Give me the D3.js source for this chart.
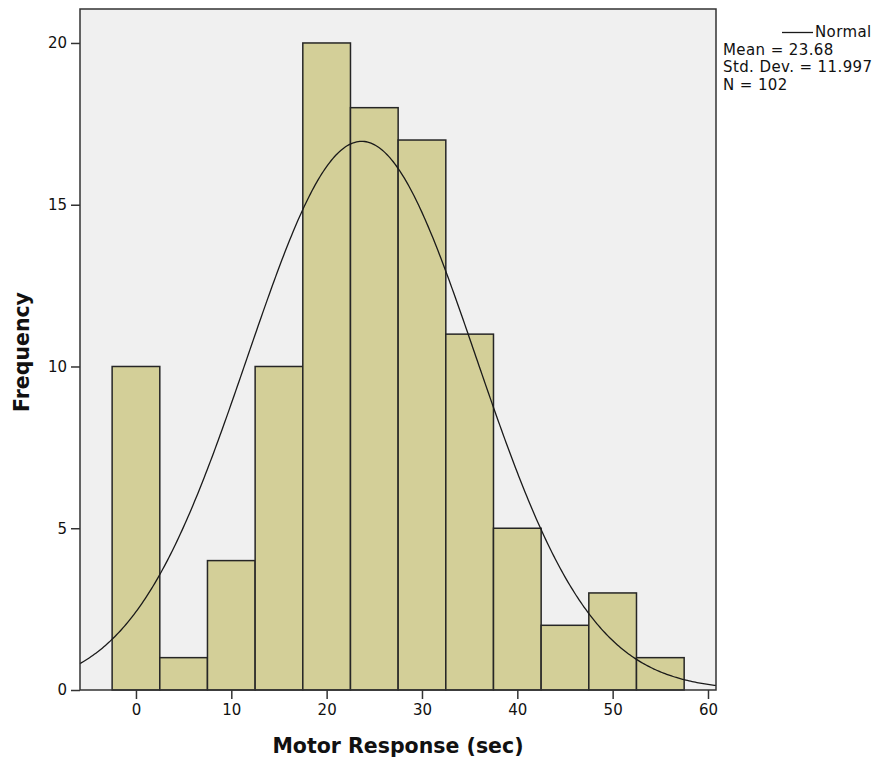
<!DOCTYPE html>
<html>
<head>
<meta charset="utf-8">
<script src="https://cdn.jsdelivr.net/npm/d3@7"></script>
<style>
  html, body { margin: 0; padding: 0; background: #fff; }
  svg { display: block; }
  text { font-family: "DejaVu Sans", "Lucida Grande", sans-serif; fill: #111; }
</style>
</head>
<body>
<script>
// Histogram of motor response times, 5-second bins centred on multiples of 5
const binCenters = [0, 5, 10, 15, 20, 25, 30, 35, 40, 45, 50, 55];
const frequencies = [10, 1, 4, 10, 20, 18, 17, 11, 5, 2, 3, 1];
const binWidth = 5;

// Summary statistics used for the fitted normal curve
const statMean = 23.68;
const statSD = 11.997;
const statN = 102;

const xTicks = [0, 10, 20, 30, 40, 50, 60];
const yTicks = [0, 5, 10, 15, 20];
const legendLines = ["Mean = 23.68", "Std. Dev. = 11.997", "N = 102"];

const W = 882, H = 763;
const plot = { left: 80, top: 9, right: 716, bottom: 690 };

const svg = d3.select("body").append("svg")
  .attr("width", W).attr("height", H);

const x = d3.scaleLinear().domain([-5.87, 60.84]).range([plot.left, plot.right]);
const y = d3.scaleLinear().domain([0, 21.05]).range([plot.bottom, plot.top]);

// Plot background
svg.append("rect")
  .attr("x", plot.left).attr("y", plot.top)
  .attr("width", plot.right - plot.left).attr("height", plot.bottom - plot.top)
  .attr("fill", "#f0f0f0");

// Bars
svg.append("g").selectAll("rect")
  .data(binCenters.map((c, i) => ({ c, f: frequencies[i] })))
  .join("rect")
  .attr("x", d => x(d.c - binWidth / 2))
  .attr("y", d => y(d.f))
  .attr("width", d => x(d.c + binWidth / 2) - x(d.c - binWidth / 2))
  .attr("height", d => y(0) - y(d.f))
  .attr("fill", "#d3cf98")
  .attr("stroke", "#262626")
  .attr("stroke-width", 1.5);

// Normal density scaled to counts: N * binWidth * pdf(x)
const pdf = v => Math.exp(-0.5 * ((v - statMean) / statSD) ** 2) / (statSD * Math.sqrt(2 * Math.PI));
const [x0, x1] = x.domain();
const curvePts = d3.range(0, 401).map(i => {
  const v = x0 + (x1 - x0) * i / 400;
  return [v, statN * binWidth * pdf(v)];
});
svg.append("path")
  .datum(curvePts)
  .attr("fill", "none")
  .attr("stroke", "#1a1a1a")
  .attr("stroke-width", 1.3)
  .attr("d", d3.line().x(d => x(d[0])).y(d => y(d[1])));

// Plot frame
svg.append("rect")
  .attr("x", plot.left).attr("y", plot.top)
  .attr("width", plot.right - plot.left).attr("height", plot.bottom - plot.top)
  .attr("fill", "none")
  .attr("stroke", "#333")
  .attr("stroke-width", 1.5);

// Axes
const xAxis = svg.append("g")
  .attr("transform", `translate(0,${plot.bottom})`)
  .call(d3.axisBottom(x).tickValues(xTicks).tickSize(9).tickPadding(5).tickFormat(d3.format("d")));
const yAxis = svg.append("g")
  .attr("transform", `translate(${plot.left},0)`)
  .call(d3.axisLeft(y).tickValues(yTicks).tickSize(9).tickPadding(4).tickFormat(d3.format("d")));
[xAxis, yAxis].forEach(g => {
  g.select(".domain").remove();
  g.selectAll(".tick line").attr("stroke", "#333").attr("stroke-width", 1.5);
  g.selectAll(".tick text")
    .attr("font-family", "DejaVu Sans, sans-serif")
    .attr("font-size", 15)
    .attr("fill", "#111");
});

// Axis titles
svg.append("text")
  .attr("x", 398).attr("y", 753)
  .attr("text-anchor", "middle")
  .attr("font-size", 20.5).attr("font-weight", "bold")
  .text("Motor Response (sec)");
svg.append("text")
  .attr("transform", "translate(29,352) rotate(-90)")
  .attr("text-anchor", "middle")
  .attr("font-size", 20.5).attr("font-weight", "bold")
  .text("Frequency");

// Legend
svg.append("line")
  .attr("x1", 782).attr("x2", 813).attr("y1", 32.5).attr("y2", 32.5)
  .attr("stroke", "#1a1a1a").attr("stroke-width", 1.3);
svg.append("text")
  .attr("x", 815).attr("y", 37)
  .attr("font-size", 15).attr("letter-spacing", 0.4)
  .text("Normal");
svg.append("g").selectAll("text")
  .data(legendLines)
  .join("text")
  .attr("x", 723)
  .attr("y", (d, i) => 54.5 + i * 17.5)
  .attr("font-size", 15).attr("letter-spacing", 0.4)
  .text(d => d);
</script>
</body>
</html>
